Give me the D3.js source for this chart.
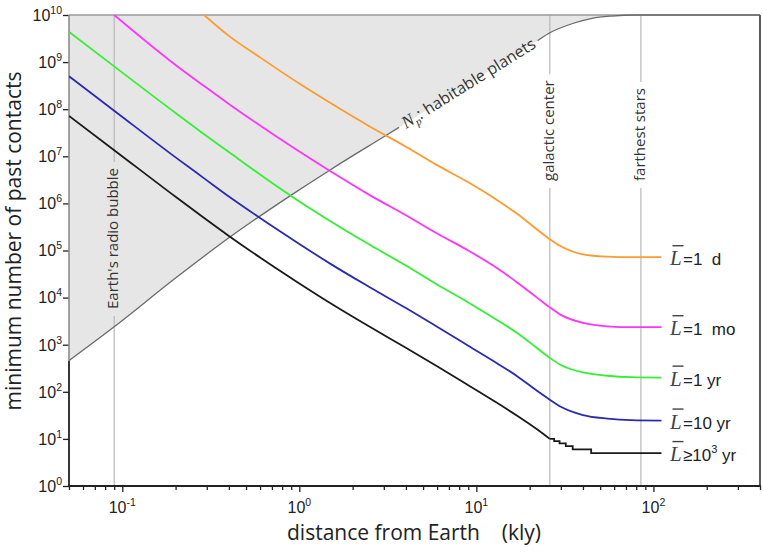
<!DOCTYPE html>
<html>
<head>
<meta charset="utf-8">
<script src="https://cdn.jsdelivr.net/npm/d3@7"></script>
<style>
  html, body { margin: 0; padding: 0; background: #fff; }
  svg { display: block; }
</style>
</head>
<body>
<svg id="chart" width="763" height="556"></svg>
<script>
const distKly = [0.05, 0.09, 0.2, 0.29, 0.4, 0.6, 1, 1.5, 2.5, 4, 6, 9, 13, 17, 22, 26, 30, 40, 55, 75, 111];

// minimum number of past contacts, one array per mean lifetime
const countDay = [null, null, null, 1e10, 3.6e9, 1.26e9, 3.5e8, 1.35e8, 4.3e7, 1.6e7, 6.5e6, 2.8e6, 1.2e6, 6.0e5, 2.8e5, 1.74e5, 1.23e5, 8.3e4, 7.4e4, 7.2e4, 7.2e4];
const countMonth = [null, 1e10, 8.7e8, 3.1e8, 1.29e8, 4.5e7, 1.26e7, 4.8e6, 1.5e6, 5.6e5, 2.3e5, 1.0e5, 4.3e4, 2.1e4, 1.0e4, 6.2e3, 4.3e3, 2.9e3, 2.45e3, 2.35e3, 2.35e3];
const countYear = [4.4e9, 8.1e8, 8.3e7, 2.95e7, 1.23e7, 4.1e6, 1.1e6, 4.2e5, 1.32e5, 4.8e4, 1.9e4, 7.9e3, 3.4e3, 1.78e3, 850, 525, 370, 257, 219, 204, 200];
const countDecade = [5.0e8, 9.3e7, 9.5e6, 3.4e6, 1.4e6, 4.9e5, 1.38e5, 5.2e4, 1.66e4, 6.0e3, 2.4e3, 950, 410, 215, 105, 68, 48, 32, 27, 25, 24.5];
const countMillennium = [7.2e7, 1.35e7, 1.38e6, 4.9e5, 2.04e5, 7.1e4, 2.0e4, 7.6e3, 2.4e3, 860, 350, 138, 59, 31, 16, 10, null, null, null, null, null];

// integer staircase of the longest-lifetime curve
const stepDist = [26, 27.5, 29.5, 32, 35, 44.5, 111];
const stepCount = [10, 9, 8, 7, 6, 5, 5];

// N_p : habitable planets within the distance
const planetDist = [0.05, 0.09, 0.2, 0.4, 0.9, 1.5, 3, 6, 12, 21, 26, 35, 45, 58, 80, 150, 400];
const planetCount = [460, 2.4e3, 2.6e4, 1.86e5, 1.5e6, 5.2e6, 2.6e7, 1.3e8, 6.8e8, 2.5e9, 4.2e9, 6.6e9, 8.5e9, 9.5e9, 1e10, 1e10, 1e10];

const seriesLabels = ["=1\u00a0\u00a0d", "=1\u00a0\u00a0mo", "=1\u00a0yr", "=10\u00a0yr", "\u226510"];
const seriesColors = ["#ff9a2e", "#ff33ff", "#33f033", "#2a2ab0", "#1a1a1a"];

const markerDist = [0.09, 26, 85];
const markerNames = ["Earth's radio bubble", "galactic center", "farthest stars"];

const xTickExps = [-1, 0, 1, 2];
const yTickExps = [0, 1, 2, 3, 4, 5, 6, 7, 8, 9, 10];

const width = 763;
const height = 556;
const marginTop = 15;
const marginRight = 3;
const marginBottom = 70;
const marginLeft = 69;

const textFont = "'Open Sans', sans-serif";
const tickFont = "'Liberation Sans', Arial, sans-serif";
const serifFont = "'Liberation Serif', 'Times New Roman', serif";

const svg = d3.select("#chart");

const x = d3.scaleLog().domain([0.05, 400]).range([marginLeft, width - marginRight]);
const y = d3.scaleLog().domain([1, 1e10]).range([height - marginBottom, marginTop]);

const seriesValues = [countDay, countMonth, countYear, countDecade, countMillennium];
const series = seriesValues.map((vals, i) => ({
  label: seriesLabels[i],
  color: seriesColors[i],
  points: distKly.map((d, j) => [d, vals[j]]).filter((p) => p[1] != null),
}));
const planets = planetDist.map((d, i) => [d, planetCount[i]]);
const steps = stepDist.map((d, i) => [d, stepCount[i]]);

const defs = svg.append("defs");
defs.append("clipPath").attr("id", "plotClip")
  .append("rect")
  .attr("x", marginLeft).attr("y", marginTop)
  .attr("width", width - marginLeft - marginRight)
  .attr("height", height - marginTop - marginBottom);
const npMask = defs.append("mask").attr("id", "npMask")
  .attr("maskUnits", "userSpaceOnUse")
  .attr("x", 0).attr("y", 0).attr("width", width).attr("height", height);
npMask.append("rect").attr("width", width).attr("height", height).attr("fill", "#fff");
const npHole = npMask.append("rect").attr("fill", "#000");

// shaded region above the habitable planets curve
svg.append("path")
  .datum(planets)
  .attr("fill", "#e6e6e6")
  .attr("d", d3.area()
    .x((d) => x(d[0]))
    .y0(y(1e10))
    .y1((d) => y(d[1]))
    .curve(d3.curveMonotoneX));

// vertical reference lines with their labels
const markerG = svg.append("g").attr("class", "markers");
markerDist.forEach((d, i) => {
  const mx = x(d);
  const y0 = i === 0 ? 309 : 181;
  const t = markerG.append("text")
    .attr("transform", `translate(${mx + 4.2},${y0}) rotate(-90)`)
    .attr("font-family", textFont)
    .attr("font-size", 15)
    .attr("fill", "#333")
    .text(markerNames[i]);
  const len = t.node().getComputedTextLength();
  markerG.append("line")
    .attr("x1", mx).attr("x2", mx)
    .attr("y1", marginTop).attr("y2", y0 - len - 6)
    .attr("stroke", "#b3b3b3").attr("stroke-width", 1.1);
  markerG.append("line")
    .attr("x1", mx).attr("x2", mx)
    .attr("y1", y0 + 7).attr("y2", height - marginBottom)
    .attr("stroke", "#b3b3b3").attr("stroke-width", 1.1);
});

// frame: top (gray) and right (dark)
svg.append("line")
  .attr("x1", marginLeft).attr("x2", width - marginRight)
  .attr("y1", marginTop).attr("y2", marginTop)
  .attr("stroke", "#9a9a9a").attr("stroke-width", 1.6);
svg.append("line")
  .attr("x1", width - marginRight).attr("x2", width - marginRight)
  .attr("y1", marginTop).attr("y2", height - marginBottom)
  .attr("stroke", "#333").attr("stroke-width", 1.6);

// x axis: major and minor ticks
const xMinor = [];
for (let e = -2; e <= 2; e++) {
  for (let m = 2; m <= 9; m++) {
    const v = m * Math.pow(10, e);
    if (v >= 0.05 && v <= 400) xMinor.push(v);
  }
}
const xAxisG = svg.append("g")
  .attr("transform", `translate(0,${height - marginBottom})`);
xAxisG.append("g")
  .call(d3.axisBottom(x).tickValues(xMinor).tickSize(4).tickFormat(""))
  .call((g) => g.select(".domain").remove());
xAxisG.append("g")
  .call(d3.axisBottom(x).tickValues(xTickExps.map((e) => Math.pow(10, e))).tickSize(6).tickFormat(""))
  .call((g) => g.select(".domain").remove());
xAxisG.selectAll(".tick line").attr("stroke", "#222").attr("stroke-width", 1.3);
xAxisG.append("line")
  .attr("x1", marginLeft - 1).attr("x2", width - marginRight + 1)
  .attr("stroke", "#222").attr("stroke-width", 1.8);

const xLabels = xAxisG.append("g")
  .attr("font-family", tickFont)
  .attr("fill", "#222");
xTickExps.forEach((e) => {
  const t = xLabels.append("text")
    .attr("x", x(Math.pow(10, e)))
    .attr("y", 27)
    .attr("text-anchor", "middle")
    .attr("font-size", 16);
  t.append("tspan").text("10");
  t.append("tspan").attr("font-size", 10.5).attr("dy", -7).text(e);
});

// y axis: major ticks, dark below the shaded region, gray inside it
const yAxisG = svg.append("g").attr("transform", `translate(${marginLeft},0)`);
yAxisG.call(d3.axisLeft(y).tickValues(yTickExps.map((e) => Math.pow(10, e))).tickSize(6).tickFormat(""))
  .call((g) => g.select(".domain").remove());
yAxisG.selectAll(".tick line").attr("stroke", "#222").attr("stroke-width", 1.3);
yAxisG.append("line")
  .attr("y1", y(1) + 1).attr("y2", y(planetCount[0]))
  .attr("stroke", "#222").attr("stroke-width", 1.8);
yAxisG.append("line")
  .attr("y1", y(planetCount[0])).attr("y2", marginTop)
  .attr("stroke", "#8c8c8c").attr("stroke-width", 1.6);

const yLabels = yAxisG.append("g")
  .attr("font-family", tickFont)
  .attr("fill", "#222");
yTickExps.forEach((e) => {
  const t = yLabels.append("text")
    .attr("x", -7)
    .attr("y", y(Math.pow(10, e)) + 5.8)
    .attr("text-anchor", "end")
    .attr("font-size", 16);
  t.append("tspan").text("10");
  t.append("tspan").attr("font-size", 10.5).attr("dy", -7).text(e);
});

// habitable planets curve
const line = d3.line()
  .x((d) => x(d[0]))
  .y((d) => y(d[1]))
  .curve(d3.curveMonotoneX);

svg.append("path")
  .datum(planets)
  .attr("fill", "none")
  .attr("stroke", "#6a6a6a")
  .attr("stroke-width", 1.3)
  .attr("mask", "url(#npMask)")
  .attr("d", line);

// contact curves
const curvesG = svg.append("g").attr("clip-path", "url(#plotClip)");
curvesG.selectAll("path.series")
  .data(series)
  .join("path")
  .attr("class", "series")
  .attr("fill", "none")
  .attr("stroke", (d) => d.color)
  .attr("stroke-width", 1.8)
  .attr("d", (d) => line(d.points));
curvesG.append("path")
  .datum(steps)
  .attr("fill", "none")
  .attr("stroke", seriesColors[4])
  .attr("stroke-width", 1.8)
  .attr("d", d3.line().x((d) => x(d[0])).y((d) => y(d[1])).curve(d3.curveStepAfter));

// right-hand labels: L-bar = ...
const legendG = svg.append("g").attr("fill", "#222");
series.forEach((s, i) => {
  const last = i === 4 ? stepCount[stepCount.length - 1] : s.points[s.points.length - 1][1];
  const g = legendG.append("g").attr("transform", `translate(670,${y(last)})`);
  g.append("text")
    .attr("x", 0).attr("y", 8)
    .attr("font-family", serifFont)
    .attr("font-style", "italic")
    .attr("font-size", 21)
    .attr("fill", "#444")
    .text("L");
  g.append("line")
    .attr("x1", 2.5).attr("x2", 13.5)
    .attr("y1", -11.5).attr("y2", -11.5)
    .attr("stroke", "#444").attr("stroke-width", 1.4);
  const t = g.append("text")
    .attr("x", 13).attr("y", 8)
    .attr("font-family", tickFont)
    .attr("font-size", 17)
    .text(s.label);
  if (i === 4) {
    t.append("tspan").attr("font-size", 11).attr("dy", -8).text("3");
    t.append("tspan").attr("dy", 8).text("\u00a0yr");
  }
});

// N_p label written along the habitable planets curve
const npPix = planets.map((d) => [x(d[0]), y(d[1])]);
function npAt(px) {
  for (let i = 1; i < npPix.length; i++) {
    if (px <= npPix[i][0]) {
      const [x0, y0] = npPix[i - 1];
      const [x1, y1] = npPix[i];
      return y0 + ((y1 - y0) * (px - x0)) / (x1 - x0);
    }
  }
  return npPix[npPix.length - 1][1];
}
const lx0 = x(3.7);
const ly0 = npAt(lx0);
const lx1 = x(19);
const ly1 = npAt(lx1);
const angle = (Math.atan2(ly1 - ly0, lx1 - lx0) * 180) / Math.PI;
const npTransform = `translate(${lx0},${ly0}) rotate(${angle})`;
const npText = svg.append("text")
  .attr("transform", npTransform)
  .attr("x", 4).attr("y", 5)
  .attr("fill", "#333");
npText.append("tspan")
  .attr("font-family", serifFont)
  .attr("font-style", "italic")
  .attr("font-size", 17.5)
  .text("N");
npText.append("tspan")
  .attr("font-family", serifFont)
  .attr("font-style", "italic")
  .attr("font-size", 11)
  .attr("dy", 4)
  .text("p");
npText.append("tspan")
  .attr("font-family", textFont)
  .attr("font-size", 16)
  .attr("dy", -4)
  .text(": habitable planets");
const npLen = npText.node().getComputedTextLength();
npHole.attr("transform", npTransform)
  .attr("x", -1).attr("y", -10)
  .attr("width", npLen + 9).attr("height", 19);

// axis titles
svg.append("text")
  .attr("x", 287).attr("y", 540)
  .attr("font-family", textFont)
  .attr("font-size", 21)
  .attr("fill", "#222")
  .text("distance from Earth\u00a0\u00a0\u00a0\u00a0(kly)");

svg.append("text")
  .attr("transform", `translate(21,241) rotate(-90)`)
  .attr("text-anchor", "middle")
  .attr("font-family", textFont)
  .attr("font-size", 21)
  .attr("fill", "#222")
  .text("minimum number of past contacts");
</script>
</body>
</html>
